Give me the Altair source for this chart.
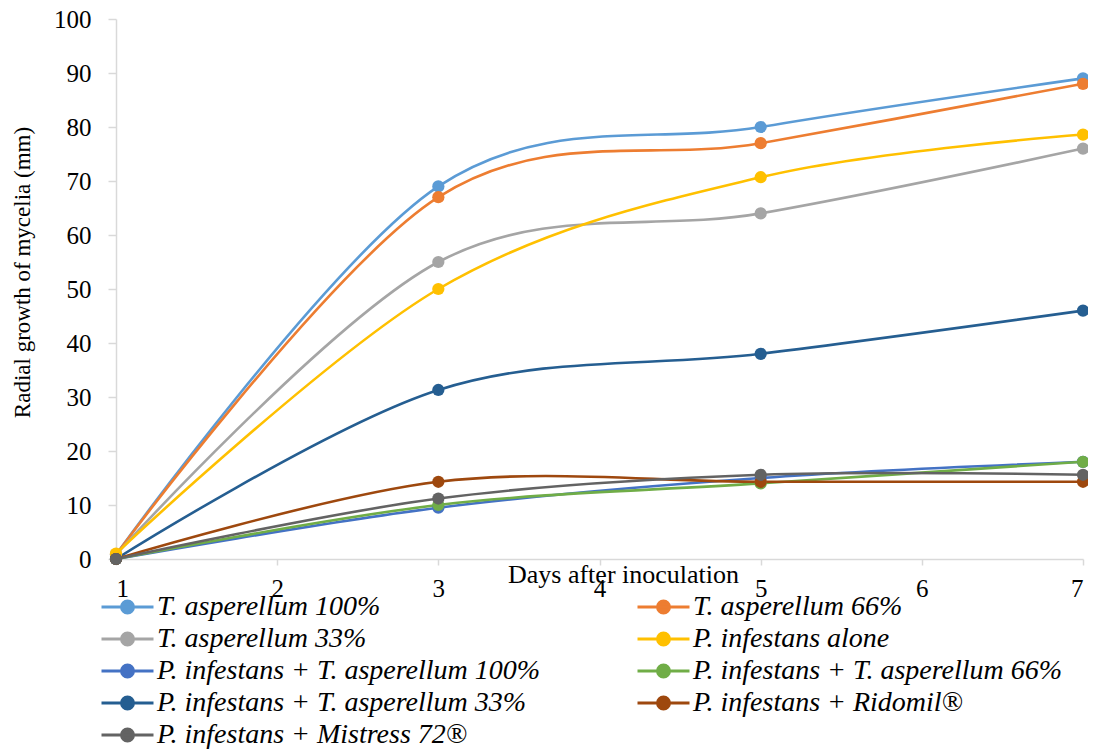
import altair as alt
import pandas as pd

days = [1, 3, 5, 7]
series = [
    "T. asperellum 100%",
    "T. asperellum 66%",
    "T. asperellum 33%",
    "P. infestans alone",
    "P. infestans + T. asperellum 100%",
    "P. infestans + T. asperellum 66%",
    "P. infestans + T. asperellum 33%",
    "P. infestans + Ridomil®",
    "P. infestans + Mistress 72®",
]
values = [
    [0.8, 69.0, 80.0, 89.0],
    [0.8, 67.0, 77.0, 88.0],
    [0.8, 55.0, 64.0, 76.0],
    [1.0, 50.0, 70.7, 78.6],
    [0.0, 9.5, 15.0, 18.0],
    [0.0, 10.0, 14.0, 18.0],
    [0.0, 31.3, 38.0, 46.0],
    [0.0, 14.3, 14.3, 14.3],
    [0.0, 11.2, 15.6, 15.6],
]
colors = ["#5B9BD5", "#ED7D31", "#A5A5A5", "#FFC000", "#4472C4",
          "#70AD47", "#255E91", "#9E480E", "#636363"]

rows = []
for i, (s, vals) in enumerate(zip(series, values)):
    for d, v in zip(days, vals):
        rows.append({"series": s, "order": i, "day": d, "value": v})
df = pd.DataFrame(rows)

FONT = "Liberation Serif"

color = alt.Color(
    "series:N",
    scale=alt.Scale(domain=series, range=colors),
    sort=series,
    legend=alt.Legend(
        title=None,
        orient="none",
        direction="horizontal",
        legendX=-16,
        legendY=572,
        columns=2,
        columnPadding=95,
        rowPadding=0,
        clipHeight=32,
        symbolType="M-1,0L1,0M-0.23,0A0.23,0.23,0,1,1,0.23,0A0.23,0.23,0,1,1,-0.23,0Z",
        symbolSize=2704,
        symbolStrokeWidth=3,
        labelFont=FONT,
        labelFontStyle="italic",
        labelFontSize=28,
        labelColor="#000000",
        labelLimit=700,
        labelOffset=2,
    ),
)

x = alt.X(
    "day:Q",
    scale=alt.Scale(domain=[1, 7], nice=False, zero=False),
    axis=alt.Axis(
        title="Days after inoculation",
        values=[1, 2, 3, 4, 5, 6, 7],
        format="d",
        grid=False,
        tickSize=6,
        labelPadding=11,
        labelFont=FONT,
        titleX=507,
        titleY=23,
        titleAlign="center",
        titleBaseline="alphabetic",
    ),
)
y = alt.Y(
    "value:Q",
    scale=alt.Scale(domain=[0, 100], nice=False),
    axis=alt.Axis(
        title="Radial growth of mycelia (mm)",
        titleFontSize=23,
        values=list(range(0, 101, 10)),
        grid=False,
        tickSize=8,
        labelPadding=17,
        labelFont=FONT,
        titleX=-94,
        titleY=253,
        titleAngle=270,
        titleAlign="center",
        titleBaseline="middle",
    ),
)

lines = alt.Chart(df).mark_line(interpolate="cardinal", tension=0, strokeWidth=2.6).encode(
    x=x, y=y, color=color, detail="series:N", order="order:Q"
)
points = alt.Chart(df).mark_point(filled=True, size=150, opacity=1).encode(
    x=x, y=y, color=color, order="order:Q"
)

chart = (
    alt.layer(lines, points)
    .properties(
        width=967,
        height=540,
        autosize=alt.AutoSizeParams(type="none"),
        padding={"left": 108, "top": 11, "right": 5, "bottom": 195},
    )
    .configure(font=FONT)
    .configure_view(stroke=None)
    .configure_axis(
        domainColor="#d9d9d9",
        tickColor="#d9d9d9",
        domainWidth=1.5,
        tickWidth=1.5,
        labelFont=FONT,
        labelFontSize=25,
        labelColor="#000000",
        titleFont=FONT,
        titleFontSize=26,
        titleFontWeight="normal",
        titleColor="#000000",
    )
    .configure_legend(labelFont=FONT)
)

chart.save("out.html", embed_options={"renderer": "svg", "actions": False})
